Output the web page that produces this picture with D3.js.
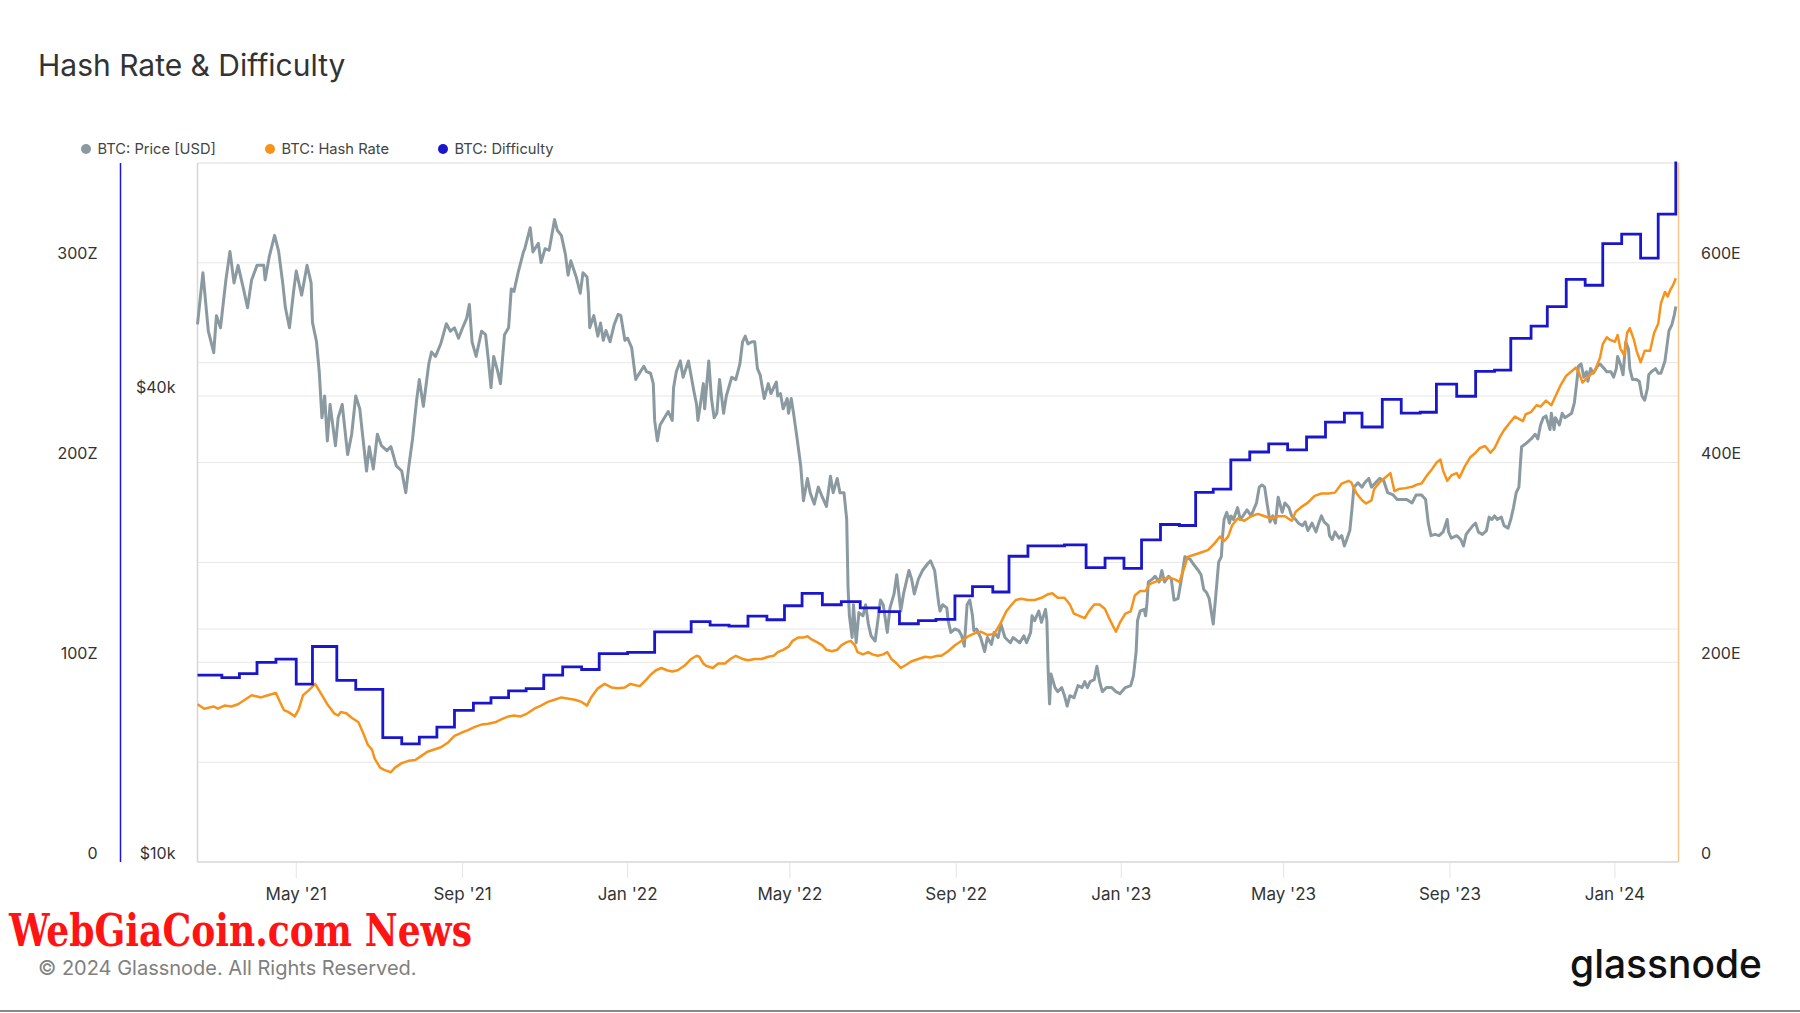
<!DOCTYPE html>
<html>
<head>
<meta charset="utf-8">
<script src="https://cdn.jsdelivr.net/npm/d3@7"></script>
<style>
  html, body { margin: 0; padding: 0; background: #fff; }
  svg { display: block; font-family: Inter, "Noto Sans", sans-serif; }
</style>
</head>
<body>
<svg id="chart" width="1800" height="1013"></svg>
<script>
// BTC price in $k
const priceSeries = [
  ["2021-02-17",49.5],["2021-02-21",57.7],["2021-02-25",48.5],["2021-03-01",45.5],["2021-03-03",50.8],["2021-03-06",49],
  ["2021-03-10",56.5],["2021-03-13",61.5],["2021-03-16",56],["2021-03-19",59],["2021-03-23",55],["2021-03-26",52],
  ["2021-03-29",56.5],["2021-04-02",59],["2021-04-07",59],["2021-04-08",56.5],["2021-04-11",60.5],["2021-04-15",64.5],
  ["2021-04-18",61.5],["2021-04-21",56],["2021-04-23",52],["2021-04-26",49],["2021-04-29",54.5],["2021-05-01",58],
  ["2021-05-05",54],["2021-05-09",59],["2021-05-12",56],["2021-05-13",49.8],["2021-05-16",47],["2021-05-18",43],
  ["2021-05-20",37.5],["2021-05-22",40],["2021-05-24",35],["2021-05-26",39],["2021-05-30",34.5],["2021-06-01",37.5],
  ["2021-06-04",39],["2021-06-06",36.2],["2021-06-08",33.6],["2021-06-11",35.7],["2021-06-14",40],["2021-06-17",38.5],
  ["2021-06-19",35.7],["2021-06-22",32],["2021-06-24",34.4],["2021-06-27",32.2],["2021-06-30",35.7],["2021-07-03",34.5],
  ["2021-07-07",34],["2021-07-10",34.4],["2021-07-14",32.5],["2021-07-18",32],["2021-07-21",30],["2021-07-23",32.2],
  ["2021-07-26",35.2],["2021-07-29",39.5],["2021-07-31",42],["2021-08-03",38.8],["2021-08-07",44],["2021-08-09",45.6],
  ["2021-08-12",45],["2021-08-16",46.8],["2021-08-20",49.6],["2021-08-23",48.5],["2021-08-26",49],["2021-08-29",47.5],
  ["2021-09-01",49],["2021-09-04",50.4],["2021-09-06",52.5],["2021-09-08",47],["2021-09-11",45],["2021-09-15",48.5],
  ["2021-09-18",48],["2021-09-20",44.6],["2021-09-22",41],["2021-09-24",45],["2021-09-27",43],["2021-09-29",41.5],
  ["2021-10-02",48],["2021-10-05",49],["2021-10-07",55],["2021-10-09",54.6],["2021-10-12",57.7],["2021-10-16",61.4],
  ["2021-10-17",62],["2021-10-21",66],["2021-10-23",61.4],["2021-10-27",63],["2021-10-29",59.5],["2021-11-01",62],
  ["2021-11-04",61.7],["2021-11-08",67.6],["2021-11-10",65.5],["2021-11-13",64.5],["2021-11-16",61],["2021-11-18",57.3],
  ["2021-11-20",59.8],["2021-11-24",57],["2021-11-27",54.3],["2021-11-29",57.7],["2021-12-02",57],["2021-12-03",54.3],
  ["2021-12-04",49],["2021-12-07",50.8],["2021-12-10",47.8],["2021-12-12",49.7],["2021-12-14",47.2],["2021-12-16",48.6],
  ["2021-12-19",47],["2021-12-22",49.4],["2021-12-25",51],["2021-12-27",50.8],["2021-12-30",47.2],["2022-01-01",47.5],
  ["2022-01-04",46.2],["2022-01-07",42],["2022-01-09",42.6],["2022-01-13",43.7],["2022-01-15",43],["2022-01-18",42.8],
  ["2022-01-20",41.5],["2022-01-21",37.2],["2022-01-23",35],["2022-01-25",36.7],["2022-01-27",37.2],["2022-01-31",38.2],
  ["2022-02-03",37.2],["2022-02-04",41],["2022-02-06",43],["2022-02-09",44.4],["2022-02-11",42.3],["2022-02-15",44.4],
  ["2022-02-19",40.6],["2022-02-21",39],["2022-02-22",37.2],["2022-02-24",39.2],["2022-02-26",41.5],["2022-02-27",38.5],
  ["2022-03-02",44.4],["2022-03-04",39.7],["2022-03-06",37.5],["2022-03-08",38],["2022-03-10",42],["2022-03-13",38],
  ["2022-03-15",40],["2022-03-19",42.3],["2022-03-22",42],["2022-03-25",44],["2022-03-27",47],["2022-03-29",47.8],
  ["2022-03-31",46.7],["2022-04-03",47],["2022-04-05",47],["2022-04-07",43.4],["2022-04-09",42.6],["2022-04-12",39.7],
  ["2022-04-15",41.5],["2022-04-17",40.3],["2022-04-21",41.7],["2022-04-22",40],["2022-04-24",40.3],["2022-04-26",38.5],
  ["2022-04-29",39.7],["2022-04-30",38],["2022-05-02",39.7],["2022-05-04",37.7],["2022-05-05",36.6],["2022-05-06",35.6],
  ["2022-05-09",32.5],["2022-05-11",29.3],["2022-05-14",31.3],["2022-05-16",30],["2022-05-19",29],["2022-05-22",30.5],
  ["2022-05-25",29.6],["2022-05-28",28.8],["2022-05-31",31.5],["2022-06-02",30],["2022-06-05",31.3],["2022-06-07",30],
  ["2022-06-10",30],["2022-06-12",27.7],["2022-06-13",22.6],["2022-06-14",20.8],["2022-06-16",19.5],["2022-06-17",21.5],
  ["2022-06-19",19.2],["2022-06-21",21],["2022-06-24",20.8],["2022-06-26",21.5],["2022-06-28",20.3],["2022-06-30",19.6],
  ["2022-07-03",19.3],["2022-07-05",20.5],["2022-07-07",21.8],["2022-07-09",21.5],["2022-07-12",19.8],["2022-07-14",21.3],
  ["2022-07-17",22.2],["2022-07-19",23.5],["2022-07-22",21.1],["2022-07-24",22.2],["2022-07-28",23.8],["2022-07-30",23.2],
  ["2022-08-01",22.2],["2022-08-04",23.2],["2022-08-07",23.8],["2022-08-11",24.3],["2022-08-13",24.5],["2022-08-16",23.8],
  ["2022-08-19",21.6],["2022-08-20",21.1],["2022-08-22",21.5],["2022-08-25",21.3],["2022-08-26",20.5],["2022-08-28",19.8],
  ["2022-08-31",20],["2022-09-03",19.9],["2022-09-05",19.6],["2022-09-07",19],["2022-09-09",21.5],["2022-09-11",21.8],
  ["2022-09-13",20.8],["2022-09-14",19.9],["2022-09-16",20],["2022-09-19",19.5],["2022-09-22",18.7],["2022-09-24",19.5],
  ["2022-09-27",19.1],["2022-09-29",19.8],["2022-10-02",19.5],["2022-10-04",20.3],["2022-10-07",19.5],["2022-10-11",19.2],
  ["2022-10-13",19.5],["2022-10-18",19.2],["2022-10-21",19.6],["2022-10-23",19.2],["2022-10-26",19.8],["2022-10-27",20.8],
  ["2022-10-29",20.5],["2022-11-01",21.1],["2022-11-03",20.4],["2022-11-06",21.2],["2022-11-07",20.5],["2022-11-08",17.6],
  ["2022-11-09",16],["2022-11-10",17.5],["2022-11-13",16.8],["2022-11-15",16.6],["2022-11-18",16.8],["2022-11-20",16.4],
  ["2022-11-22",15.9],["2022-11-24",16.4],["2022-11-27",16.3],["2022-11-30",16.9],["2022-12-03",16.8],["2022-12-05",17.1],
  ["2022-12-07",16.8],["2022-12-09",17.1],["2022-12-12",17.2],["2022-12-14",17.9],["2022-12-16",17.1],["2022-12-18",16.6],
  ["2022-12-21",16.8],["2022-12-25",16.8],["2022-12-28",16.6],["2022-12-31",16.5],["2023-01-04",16.8],["2023-01-08",16.9],
  ["2023-01-10",17.4],["2023-01-12",18.7],["2023-01-13",20.5],["2023-01-15",21.1],["2023-01-18",21.2],["2023-01-19",20.8],
  ["2023-01-20",21.6],["2023-01-21",23],["2023-01-24",23.2],["2023-01-26",23.4],["2023-01-29",23],["2023-01-31",23.8],
  ["2023-02-02",23],["2023-02-05",23.4],["2023-02-07",23.2],["2023-02-09",21.8],["2023-02-12",21.9],["2023-02-15",23.5],
  ["2023-02-17",24.8],["2023-02-21",24.6],["2023-02-23",24.3],["2023-02-27",23.8],["2023-03-01",23.5],["2023-03-03",22.5],
  ["2023-03-05",22.3],["2023-03-07",21.9],["2023-03-09",20.8],["2023-03-10",20.3],["2023-03-12",22.2],["2023-03-14",24.4],
  ["2023-03-16",24.8],["2023-03-17",26.5],["2023-03-18",27.7],["2023-03-20",28.3],["2023-03-22",27.4],["2023-03-23",28],
  ["2023-03-25",27.7],["2023-03-28",28.7],["2023-03-30",27.7],["2023-04-01",28],["2023-04-04",28.5],["2023-04-07",28],
  ["2023-04-11",29.1],["2023-04-13",30.5],["2023-04-15",30.7],["2023-04-17",30.5],["2023-04-19",28.9],["2023-04-21",27.5],
  ["2023-04-23",28],["2023-04-25",27.4],["2023-04-27",29.6],["2023-04-30",28.3],["2023-05-02",29.1],["2023-05-05",28.7],
  ["2023-05-07",28],["2023-05-10",27.7],["2023-05-12",27.4],["2023-05-15",27.2],["2023-05-17",27.5],["2023-05-19",26.8],
  ["2023-05-22",27.4],["2023-05-25",26.7],["2023-05-27",27.4],["2023-05-29",28],["2023-05-31",27.5],["2023-06-03",27.2],
  ["2023-06-04",26.4],["2023-06-06",26.1],["2023-06-08",26.7],["2023-06-11",26.2],["2023-06-13",26.4],["2023-06-15",25.6],
  ["2023-06-17",26.2],["2023-06-19",26.8],["2023-06-21",29.1],["2023-06-22",30.5],["2023-06-25",30.9],["2023-06-28",30.5],
  ["2023-06-30",30.9],["2023-07-03",31.3],["2023-07-05",30.5],["2023-07-08",30.9],["2023-07-11",31.3],["2023-07-14",31.1],
  ["2023-07-17",30],["2023-07-21",29.8],["2023-07-24",29.4],["2023-07-28",29.4],["2023-07-31",29.4],["2023-08-04",29.1],
  ["2023-08-07",29.8],["2023-08-11",29.8],["2023-08-14",29.4],["2023-08-16",27.4],["2023-08-18",26.4],["2023-08-21",26.5],
  ["2023-08-24",26.4],["2023-08-27",26.7],["2023-08-30",27.7],["2023-08-31",26.7],["2023-09-02",26.2],["2023-09-06",26.4],
  ["2023-09-09",26.1],["2023-09-11",25.6],["2023-09-13",26.5],["2023-09-15",26.8],["2023-09-18",27.2],["2023-09-20",27.4],
  ["2023-09-22",26.7],["2023-09-25",26.5],["2023-09-28",26.8],["2023-09-30",27.9],["2023-10-02",27.7],["2023-10-04",28],
  ["2023-10-06",27.7],["2023-10-09",27.9],["2023-10-11",27.2],["2023-10-14",27],["2023-10-16",27.7],["2023-10-18",28.7],
  ["2023-10-20",30],["2023-10-22",30.5],["2023-10-23",32.5],["2023-10-24",34.4],["2023-10-27",34.7],["2023-10-31",35.2],
  ["2023-11-03",35.7],["2023-11-05",35.2],["2023-11-07",36.7],["2023-11-09",37.5],["2023-11-11",37.7],["2023-11-14",36.2],
  ["2023-11-15",38],["2023-11-17",36.2],["2023-11-18",37.5],["2023-11-21",36.7],["2023-11-23",38],["2023-11-25",37.5],
  ["2023-11-27",37.7],["2023-11-30",38],["2023-12-02",39.2],["2023-12-04",42],["2023-12-05",43.7],["2023-12-07",44],
  ["2023-12-09",42.3],["2023-12-11",43],["2023-12-12",41.8],["2023-12-14",43.4],["2023-12-16",42.8],["2023-12-19",43.7],
  ["2023-12-21",44],["2023-12-24",43.4],["2023-12-26",43],["2023-12-29",43],["2023-12-31",42.3],["2024-01-02",43.4],
  ["2024-01-03",45],["2024-01-05",44],["2024-01-07",42.6],["2024-01-09",47],["2024-01-11",46],["2024-01-12",43.4],
  ["2024-01-14",42],["2024-01-17",42],["2024-01-19",41.8],["2024-01-21",40],["2024-01-23",39.5],["2024-01-25",40.9],
  ["2024-01-26",42.6],["2024-01-28",43],["2024-01-31",43.4],["2024-02-02",42.8],["2024-02-04",42.8],["2024-02-07",44.4],
  ["2024-02-09",47.2],["2024-02-10",48.6],["2024-02-12",49.4],["2024-02-14",51],["2024-02-15",52.2]
];

// BTC hash rate in EH/s
const hashSeries = [
  ["2021-02-17",158],["2021-02-22",153.5],["2021-03-01",155.7],["2021-03-04",153.5],["2021-03-09",156.7],["2021-03-14",155.7],
  ["2021-03-19",158],["2021-03-24",162.5],["2021-03-29",167],["2021-04-02",165.7],["2021-04-05",164.8],["2021-04-10",167],
  ["2021-04-16",169.3],["2021-04-19",160.3],["2021-04-22",152],["2021-04-25",150.3],["2021-04-30",145.8],["2021-05-03",153.5],
  ["2021-05-06",167],["2021-05-10",171.6],["2021-05-15",178.4],["2021-05-19",169.3],["2021-05-24",158],["2021-05-29",148.9],
  ["2021-06-01",146.7],["2021-06-03",150.3],["2021-06-07",148.9],["2021-06-11",144.4],["2021-06-16",139.9],["2021-06-19",130.8],
  ["2021-06-23",117.2],["2021-06-26",112.6],["2021-06-28",103.5],["2021-07-02",94.5],["2021-07-05",92.2],["2021-07-10",89.9],
  ["2021-07-13",94.5],["2021-07-18",99],["2021-07-23",101.3],["2021-07-28",102.2],["2021-08-01",105.8],["2021-08-06",110.4],
  ["2021-08-11",112.6],["2021-08-16",114.9],["2021-08-21",119.4],["2021-08-26",126.2],["2021-08-31",129.4],["2021-09-05",132.1],
  ["2021-09-10",135.3],["2021-09-15",137.6],["2021-09-20",138.5],["2021-09-25",139.9],["2021-09-30",143],["2021-10-05",145.8],
  ["2021-10-09",146.7],["2021-10-14",145.8],["2021-10-19",148.9],["2021-10-24",153.5],["2021-10-29",156.6],["2021-11-03",160.3],
  ["2021-11-08",162.5],["2021-11-13",164.8],["2021-11-23",162.5],["2021-11-28",160.3],["2021-12-02",156.6],["2021-12-05",164.8],
  ["2021-12-10",173.9],["2021-12-15",178.4],["2021-12-20",174.8],["2021-12-25",173.9],["2021-12-30",174.8],["2022-01-03",178.4],
  ["2022-01-07",177],["2022-01-10",176.1],["2022-01-15",182.9],["2022-01-18",187.5],["2022-01-22",192],["2022-01-26",194.3],
  ["2022-01-30",192],["2022-02-03",190.7],["2022-02-07",192],["2022-02-12",196.5],["2022-02-17",203.3],["2022-02-21",206.5],
  ["2022-02-23",205.6],["2022-02-26",198.8],["2022-02-28",196.5],["2022-03-05",194.3],["2022-03-09",198.8],["2022-03-14",198.8],
  ["2022-03-18",203.3],["2022-03-22",206.5],["2022-03-27",203.3],["2022-03-31",202],["2022-04-05",203.3],["2022-04-10",203.3],
  ["2022-04-15",205.6],["2022-04-19",206.5],["2022-04-22",210.2],["2022-04-26",212.5],["2022-04-30",215.6],["2022-05-03",221.5],
  ["2022-05-07",224.7],["2022-05-11",224.7],["2022-05-14",226.1],["2022-05-17",222.9],["2022-05-21",220.2],["2022-05-25",217],
  ["2022-05-28",212.5],["2022-06-01",211.1],["2022-06-05",212.5],["2022-06-08",217],["2022-06-12",220.2],["2022-06-15",221.5],
  ["2022-06-18",217],["2022-06-20",210.2],["2022-06-24",207.9],["2022-06-28",210.2],["2022-07-01",207.9],["2022-07-05",206.5],
  ["2022-07-09",207.9],["2022-07-12",210.2],["2022-07-15",203.3],["2022-07-19",198.8],["2022-07-22",194.3],["2022-07-26",197.5],
  ["2022-07-30",201.1],["2022-08-04",203.3],["2022-08-09",205.6],["2022-08-13",204.7],["2022-08-18",206.5],["2022-08-21",206.5],
  ["2022-08-26",211.1],["2022-08-31",217],["2022-09-05",221.5],["2022-09-10",226.1],["2022-09-15",229.2],["2022-09-19",230.6],
  ["2022-09-24",227.4],["2022-09-29",228.3],["2022-10-04",239.7],["2022-10-08",251],["2022-10-12",257.8],["2022-10-15",262.4],
  ["2022-10-19",263.7],["2022-10-24",262.4],["2022-10-29",262.4],["2022-11-03",264.6],["2022-11-08",268.2],["2022-11-11",269.1],
  ["2022-11-15",264.6],["2022-11-20",264.6],["2022-11-24",257.8],["2022-11-27",248.7],["2022-12-01",246.5],["2022-12-05",244.2],
  ["2022-12-08",251],["2022-12-12",257.8],["2022-12-16",257.8],["2022-12-20",253.3],["2022-12-23",244.2],["2022-12-28",230.6],
  ["2022-12-31",239.7],["2023-01-04",248.7],["2023-01-08",251],["2023-01-11",266.9],["2023-01-15",271.4],["2023-01-19",271.4],
  ["2023-01-22",278.2],["2023-01-26",280.5],["2023-01-31",282.8],["2023-02-05",285],["2023-02-10",282.8],["2023-02-13",280.5],
  ["2023-02-17",296.4],["2023-02-19",305.5],["2023-02-24",307.7],["2023-03-01",310],["2023-03-06",312.3],["2023-03-11",319.1],
  ["2023-03-15",325.9],["2023-03-18",321.3],["2023-03-21",325.9],["2023-03-24",337.2],["2023-03-28",344],["2023-04-02",341.8],
  ["2023-04-07",346.3],["2023-04-12",348.6],["2023-04-17",346.3],["2023-04-22",344],["2023-04-27",346.3],["2023-05-02",346.3],
  ["2023-05-07",341.8],["2023-05-10",350.8],["2023-05-14",355.4],["2023-05-19",359.9],["2023-05-24",366.7],["2023-05-29",369],
  ["2023-06-03",369],["2023-06-08",369.9],["2023-06-13",379],["2023-06-18",381.7],["2023-06-20",380.3],["2023-06-24",369],
  ["2023-06-28",362.2],["2023-07-01",359],["2023-07-05",362.2],["2023-07-07",373.5],["2023-07-11",380.3],["2023-07-15",384.8],
  ["2023-07-19",389.4],["2023-07-22",371.3],["2023-07-25",373.5],["2023-07-30",374.4],["2023-08-04",375.8],["2023-08-08",378.1],
  ["2023-08-11",379],["2023-08-15",387.1],["2023-08-19",393.9],["2023-08-22",399.8],["2023-08-25",403],["2023-08-27",391.7],
  ["2023-08-30",381.7],["2023-09-02",387.1],["2023-09-06",389.4],["2023-09-08",384.8],["2023-09-12",396.2],["2023-09-16",405.3],
  ["2023-09-20",409.8],["2023-09-23",414.4],["2023-09-27",416.6],["2023-10-01",409.8],["2023-10-04",414.4],["2023-10-08",425.7],
  ["2023-10-11",432.5],["2023-10-15",439.3],["2023-10-19",446.1],["2023-10-22",443.8],["2023-10-25",441.6],["2023-10-27",448.4],
  ["2023-10-31",450.6],["2023-11-04",457.4],["2023-11-07",456.1],["2023-11-11",462],["2023-11-15",457.4],["2023-11-18",466.5],
  ["2023-11-22",477.9],["2023-11-26",487],["2023-11-30",491.5],["2023-12-03",495.1],["2023-12-05",491.5],["2023-12-08",480.1],
  ["2023-12-13",487],["2023-12-17",491.5],["2023-12-21",505.1],["2023-12-23",518.7],["2023-12-26",525.5],["2023-12-28",523.2],
  ["2024-01-01",521],["2024-01-03",527.8],["2024-01-05",514.2],["2024-01-08",507.4],["2024-01-10",530],["2024-01-12",534.6],
  ["2024-01-15",523.2],["2024-01-17",511.9],["2024-01-20",500.5],["2024-01-23",511.9],["2024-01-27",511.9],["2024-01-30",530],
  ["2024-02-02",539.1],["2024-02-04",559.5],["2024-02-07",570.9],["2024-02-09",566.3],["2024-02-11",573.1],["2024-02-13",577.7],
  ["2024-02-15",584.5]
];

// BTC difficulty in Z (hashes), one entry per adjustment
const difficultySeries = [
  ["2021-02-17",93.6],["2021-03-07",92.3],["2021-03-20",94.3],["2021-04-02",100],["2021-04-16",101.6],["2021-05-01",89.1],
  ["2021-05-13",107.9],["2021-05-31",90.9],["2021-06-14",86.4],["2021-07-04",62.3],["2021-07-18",59.1],["2021-07-31",62.5],
  ["2021-08-13",67.5],["2021-08-26",75.9],["2021-09-09",79.6],["2021-09-22",82.3],["2021-10-05",85.7],["2021-10-18",86.8],
  ["2021-10-31",93.6],["2021-11-14",97.7],["2021-11-28",96.4],["2021-12-11",104.3],["2022-01-01",105],["2022-01-21",115.2],
  ["2022-02-17",120.4],["2022-03-03",118.6],["2022-03-17",118.1],["2022-03-31",123.1],["2022-04-14",121.3],["2022-04-27",128.3],
  ["2022-05-10",134.5],["2022-05-25",128.8],["2022-06-08",130.4],["2022-06-22",127.2],["2022-07-06",125.4],["2022-07-21",119.3],
  ["2022-08-04",120.9],["2022-08-17",121.5],["2022-08-31",133.3],["2022-09-13",137.9],["2022-09-28",135.2],["2022-10-10",153.1],
  ["2022-10-24",158.3],["2022-11-20",158.8],["2022-12-06",147.4],["2022-12-20",152.2],["2023-01-03",147],["2023-01-16",161.3],
  ["2023-01-30",169],["2023-02-13",168.5],["2023-02-25",185.1],["2023-03-10",186.7],["2023-03-23",201.4],["2023-04-06",205.3],
  ["2023-04-20",209.4],["2023-05-04",206.4],["2023-05-18",212.8],["2023-06-01",220.3],["2023-06-15",224.8],["2023-06-28",217.8],
  ["2023-07-13",231.6],["2023-07-27",224.8],["2023-08-10",225.2],["2023-08-22",239.3],["2023-09-06",233.2],["2023-09-20",245.7],
  ["2023-10-04",246.3],["2023-10-16",262.2],["2023-10-31",268.3],["2023-11-12",278.1],["2023-11-26",291.7],["2023-12-10",288.8],
  ["2023-12-23",309.6],["2024-01-06",314.4],["2024-01-20",302.4],["2024-02-02",324.4],["2024-02-15",350],["2024-02-16",350]
];

const dateRange = ["2021-02-17", "2024-02-17"];
const zTicks = [0, 100, 200, 300];
const eTicks = [0, 200, 400, 600];
const eGrid = [100, 200, 300, 400, 500, 600];
const priceLabelTicks = [10, 40];
const priceGrid = [20, 40];
const legendItems = [
  { name: "BTC: Price [USD]", color: "#8a9aa0" },
  { name: "BTC: Hash Rate", color: "#f7931a" },
  { name: "BTC: Difficulty", color: "#1a16cc" }
];

const parse = d3.utcParse("%Y-%m-%d");
const svg = d3.select("#chart");
const plot = { left: 197.5, right: 1678.5, top: 163, bottom: 862 };

const x = d3.scaleUtc().domain(dateRange.map(parse)).range([plot.left, plot.right]);
const yZ = d3.scaleLinear().domain([0, d3.max(difficultySeries, d => d[1])]).range([plot.bottom, plot.top]);
const yE = d3.scaleLinear().domain([0, 2 * d3.max(difficultySeries, d => d[1])]).range([plot.bottom, plot.top]);
const yP = d3.scaleLog().domain([10, 80]).range([plot.bottom, plot.top]);

// title
svg.append("text").attr("x", 38).attr("y", 76).attr("fill", "#333")
  .style("font-size", "30px").text("Hash Rate & Difficulty");

// legend
const leg = svg.append("g");
const legendX = [86, 270, 443];
legendItems.forEach((it, i) => {
  leg.append("circle").attr("cx", legendX[i]).attr("cy", 149).attr("r", 5).attr("fill", it.color);
  leg.append("text").attr("x", legendX[i] + 11.5).attr("y", 149).attr("dy", "0.35em")
    .attr("fill", "#444").style("font-size", "14.7px").text(it.name);
});

// grid
const grid = svg.append("g");
eGrid.forEach(v => {
  grid.append("line").attr("x1", plot.left).attr("x2", plot.right).attr("y1", yE(v)).attr("y2", yE(v))
    .attr("stroke", "#e7e7e7").attr("stroke-width", 1);
});
priceGrid.forEach(v => {
  grid.append("line").attr("x1", plot.left).attr("x2", plot.right).attr("y1", yP(v)).attr("y2", yP(v))
    .attr("stroke", "#e7e7e7").attr("stroke-width", 1);
});

// plot frame
svg.append("line").attr("x1", plot.left).attr("x2", plot.right).attr("y1", plot.top).attr("y2", plot.top).attr("stroke", "#dcdcdc");
svg.append("line").attr("x1", plot.left).attr("x2", plot.right).attr("y1", plot.bottom).attr("y2", plot.bottom).attr("stroke", "#d6d6d6").attr("stroke-width", 1.5);
svg.append("line").attr("x1", plot.left).attr("x2", plot.left).attr("y1", plot.top).attr("y2", plot.bottom).attr("stroke", "#d6d6d6").attr("stroke-width", 1.5);
svg.append("line").attr("x1", plot.right).attr("x2", plot.right).attr("y1", plot.top).attr("y2", plot.bottom).attr("stroke", "#f9c48a").attr("stroke-width", 1.5);
// difficulty axis line
svg.append("line").attr("x1", 120.5).attr("x2", 120.5).attr("y1", plot.top).attr("y2", plot.bottom).attr("stroke", "#1a16e0").attr("stroke-width", 1.5);

// x axis
const xTicks = x.ticks(d3.utcMonth.every(4)).filter(d => d > x.domain()[0]);
const xAxis = svg.append("g");
xTicks.forEach(d => {
  xAxis.append("line").attr("x1", x(d)).attr("x2", x(d)).attr("y1", plot.bottom).attr("y2", plot.bottom + 16)
    .attr("stroke", "#e4e4e4");
  xAxis.append("text").attr("x", x(d)).attr("y", 894).attr("dy", "0.35em").attr("text-anchor", "middle")
    .attr("fill", "#333").style("font-size", "17px").text(d3.utcFormat("%b '%y")(d));
});

// y axis labels
const yAxes = svg.append("g").style("font-size", "16px").attr("fill", "#333");
zTicks.forEach(v => {
  yAxes.append("text").attr("x", 97.5).attr("y", yZ(v) - 9).attr("dy", "0.35em").attr("text-anchor", "end")
    .text(v === 0 ? "0" : v + "Z");
});
priceLabelTicks.forEach(v => {
  yAxes.append("text").attr("x", 175.5).attr("y", yP(v) - 9).attr("dy", "0.35em").attr("text-anchor", "end")
    .text("$" + v + "k");
});
eTicks.forEach(v => {
  yAxes.append("text").attr("x", 1701).attr("y", yE(v) - 9).attr("dy", "0.35em").attr("text-anchor", "start")
    .text(v === 0 ? "0" : v + "E");
});

// series
const lines = svg.append("g");
lines.append("path").datum(priceSeries).attr("fill", "none").attr("stroke", "#8a9aa0").attr("stroke-width", 3)
  .attr("stroke-linejoin", "round")
  .attr("d", d3.line().x(d => x(parse(d[0]))).y(d => yP(d[1])));
lines.append("path").datum(hashSeries).attr("fill", "none").attr("stroke", "#f7931a").attr("stroke-width", 2.5)
  .attr("stroke-linejoin", "round")
  .attr("d", d3.line().x(d => x(parse(d[0]))).y(d => yE(d[1])));
lines.append("path").datum(difficultySeries).attr("fill", "none").attr("stroke", "#1a16cc").attr("stroke-width", 2.8)
  .attr("d", d3.line().curve(d3.curveStepAfter).x(d => x(parse(d[0]))).y(d => yZ(d[1])));

// watermark and footer
svg.append("text").attr("x", 9).attr("y", 946).attr("fill", "#ff1414")
  .style("font-family", "'DejaVu Serif', serif").style("font-weight", "bold").style("font-stretch", "condensed")
  .style("font-size", "45px").attr("textLength", 463).attr("lengthAdjust", "spacingAndGlyphs")
  .text("WebGiaCoin.com News");
svg.append("text").attr("x", 38).attr("y", 975).attr("fill", "#808080").style("font-size", "20px")
  .text("© 2024 Glassnode. All Rights Reserved.");
svg.append("text").attr("x", 1570).attr("y", 978).attr("fill", "#111").style("font-size", "40px").style("font-weight", 500)
  .attr("textLength", 192).attr("lengthAdjust", "spacingAndGlyphs").text("glassnode");
svg.append("line").attr("x1", 0).attr("x2", 1800).attr("y1", 1011).attr("y2", 1011).attr("stroke", "#888").attr("stroke-width", 2);
</script>
</body>
</html>
